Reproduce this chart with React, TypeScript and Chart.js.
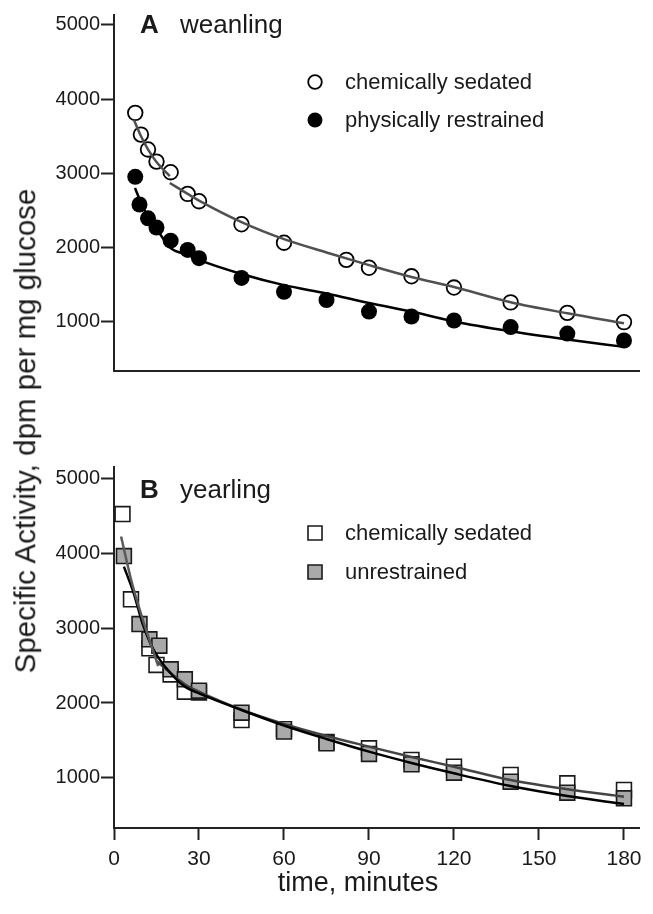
import React, { useEffect, useRef } from "react";
import { Chart, registerables } from "chart.js";
Chart.register(...registerables);

const FONT = "'Liberation Sans', Arial, Helvetica, sans-serif";
const INK = "#1a1a1a";
const AXIS = "#222222";

// ---------- Panel A: weanling ----------
const aSedatedTime = [7.5, 9.5, 12, 15, 20, 26, 30, 45, 60, 82, 90, 105, 120, 140, 160, 180];
const aSedatedValue = [3813, 3520, 3320, 3156, 3013, 2720, 2622, 2311, 2062, 1831, 1724, 1609, 1457, 1257, 1116, 991];
const aRestrainedTime = [7.5, 9, 12, 15, 20, 26, 30, 45, 60, 75, 90, 105, 120, 140, 160, 180];
const aRestrainedValue = [2951, 2577, 2391, 2267, 2089, 1964, 1853, 1587, 1400, 1289, 1133, 1067, 1013, 924, 836, 743];

// fitted curves, panel A
const aSedatedFitEarlyTime = [7, 9.5, 12, 15, 19.7];
const aSedatedFitEarlyValue = [3720, 3500, 3320, 3150, 2960];
const aSedatedFitTime = [19.7, 26, 30, 45, 60, 75, 90, 105, 120, 140, 160, 180];
const aSedatedFitValue = [2867, 2720, 2630, 2340, 2110, 1930, 1760, 1600, 1465, 1260, 1110, 975];
const aRestrainedFitTime = [7.4, 10, 12, 15, 20, 26, 30, 45, 60, 75, 90, 105, 120, 140, 160, 180];
const aRestrainedFitValue = [2800, 2560, 2420, 2250, 1990, 1900, 1830, 1640, 1490, 1378, 1250, 1133, 1000, 867, 756, 657];

// ---------- Panel B: yearling ----------
const bSedatedTime = [3, 6, 12.5, 15, 20, 25, 30, 45, 60, 75, 90, 105, 120, 140, 160, 180];
const bSedatedValue = [4520, 3383, 2729, 2507, 2380, 2151, 2140, 1773, 1650, 1480, 1396, 1240, 1151, 1040, 929, 840];
const bUnrestrainedTime = [3.5, 9, 12.5, 16, 20, 25, 30, 45, 60, 75, 90, 105, 120, 140, 160, 180];
const bUnrestrainedValue = [3960, 3053, 2849, 2764, 2449, 2316, 2164, 1871, 1618, 1462, 1320, 1182, 1071, 951, 804, 729];

// fitted curves, panel B
const bSedatedFitEarlyTime = [2.5, 6, 10, 15.6];
const bSedatedFitEarlyValue = [4220, 3650, 3130, 2493];
const bSedatedFitTime = [15, 20, 25, 30, 45, 60, 75, 90, 105, 120, 140, 160, 180];
const bSedatedFitValue = [2560, 2400, 2250, 2150, 1910, 1720, 1560, 1418, 1280, 1151, 973, 849, 751];
const bUnrestrainedFitTime = [3.5, 7, 10, 14, 20, 25, 30, 45, 60, 75, 90, 105, 120, 140, 160, 180];
const bUnrestrainedFitValue = [3818, 3460, 3070, 2707, 2396, 2218, 2129, 1907, 1700, 1520, 1351, 1200, 1062, 893, 760, 653];

// ---------- axes ----------
const yTicks = [1000, 2000, 3000, 4000, 5000];
const xTicks = [0, 30, 60, 90, 120, 150, 180];
const xTitle = "time, minutes";
const yTitle = "Specific Activity, dpm per mg glucose";

const pts = (xs: number[], ys: number[]) => xs.map((x, i) => ({ x, y: ys[i] }));

type LegendItem = { label: string; shape: "circle" | "square"; fill: string };

function overlayPlugin(
  letter: string,
  word: string,
  titleY: number,
  legend: LegendItem[],
  legendY: number[],
  axisTitle?: { text: string; x: number; y: number }
) {
  return {
    id: "overlay",
    afterDraw(chart: any) {
      const ctx = chart.ctx as CanvasRenderingContext2D;
      ctx.save();
      ctx.fillStyle = INK;
      ctx.textAlign = "left";
      ctx.textBaseline = "alphabetic";
      ctx.font = `bold 26px ${FONT}`;
      ctx.fillText(letter, 140, titleY);
      ctx.font = `26px ${FONT}`;
      ctx.fillText(word, 180, titleY);
      legend.forEach((item, i) => {
        const y = legendY[i];
        ctx.beginPath();
        if (item.shape === "circle") {
          if (item.fill === "#000000") {
            ctx.arc(315, y, 7.5, 0, Math.PI * 2);
            ctx.fillStyle = "#000000";
            ctx.fill();
          } else {
            ctx.arc(315, y, 6.8, 0, Math.PI * 2);
            ctx.fillStyle = item.fill;
            ctx.fill();
            ctx.lineWidth = 1.8;
            ctx.strokeStyle = "#000000";
            ctx.stroke();
          }
        } else {
          ctx.rect(315 - 7, y - 7, 14, 14);
          ctx.fillStyle = item.fill;
          ctx.fill();
          ctx.lineWidth = 1.6;
          ctx.strokeStyle = "#1a1a1a";
          ctx.stroke();
        }
        ctx.fillStyle = INK;
        ctx.font = `22px ${FONT}`;
        ctx.textBaseline = "middle";
        ctx.fillText(item.label, 345, y + 1);
      });
      if (axisTitle) {
        ctx.fillStyle = INK;
        ctx.font = `27px ${FONT}`;
        ctx.textAlign = "center";
        ctx.textBaseline = "middle";
        ctx.fillText(axisTitle.text, axisTitle.x, axisTitle.y);
      }
      ctx.restore();
    },
  };
}

function makeScales(yMax: number, showX: boolean) {
  return {
    x: {
      type: "linear",
      min: 0,
      max: 185.3,
      afterBuildTicks: (s: any) => {
        s.ticks = xTicks.map((v) => ({ value: v }));
      },
      grid: {
        display: true,
        drawOnChartArea: false,
        drawTicks: showX,
        tickLength: 12,
        tickWidth: 2,
        tickColor: AXIS,
      },
      border: { display: true, color: AXIS, width: 2 },
      ticks: {
        display: showX,
        font: { family: FONT, size: 21 },
        color: INK,
        padding: 7,
        maxRotation: 0,
        autoSkip: false,
        callback: (v: any) => String(v),
      },
      afterFit: (s: any) => {
        s.height = showX ? 86 : 0;
        s.paddingLeft = 0;
        s.paddingRight = 0;
      },
    },
    y: {
      type: "linear",
      min: 333,
      max: yMax,
      afterBuildTicks: (s: any) => {
        s.ticks = yTicks.map((v) => ({ value: v }));
      },
      grid: {
        display: true,
        drawOnChartArea: false,
        drawTicks: true,
        tickLength: 13,
        tickWidth: 2,
        tickColor: AXIS,
      },
      border: { display: true, color: AXIS, width: 2 },
      ticks: {
        font: { family: FONT, size: 20 },
        color: INK,
        padding: 1,
        callback: (v: any) => String(v),
      },
      afterFit: (s: any) => {
        s.width = 114;
        s.paddingTop = 0;
        s.paddingBottom = 0;
      },
    },
  };
}

const curve = (data: any[], color: string) => ({
  data,
  showLine: true,
  borderColor: color,
  borderWidth: 2.5,
  pointRadius: 0,
  pointHoverRadius: 0,
  cubicInterpolationMode: "monotone",
  fill: false,
});

export default function App() {
  const topRef = useRef<HTMLCanvasElement>(null);
  const botRef = useRef<HTMLCanvasElement>(null);

  useEffect(() => {
    const top = new Chart(topRef.current as HTMLCanvasElement, {
      type: "scatter",
      data: {
        datasets: [
          curve(pts(aSedatedFitEarlyTime, aSedatedFitEarlyValue), "#505050"),
          curve(pts(aSedatedFitTime, aSedatedFitValue), "#505050"),
          curve(pts(aRestrainedFitTime, aRestrainedFitValue), "#000000"),
          {
            label: "physically restrained",
            data: pts(aRestrainedTime, aRestrainedValue),
            pointStyle: "circle",
            pointRadius: 8,
            pointBorderWidth: 0,
            pointBackgroundColor: "#000000",
            pointBorderColor: "#000000",
          },
          {
            label: "chemically sedated",
            data: pts(aSedatedTime, aSedatedValue),
            pointStyle: "circle",
            pointRadius: 7.3,
            pointBorderWidth: 1.8,
            pointBackgroundColor: "#ffffff",
            pointBorderColor: "#000000",
          },
        ] as any,
      },
      options: {
        animation: false,
        responsive: false,
        events: [],
        layout: { padding: { left: 0, right: 14, top: 15, bottom: 5 } },
        plugins: { legend: { display: false }, tooltip: { enabled: false } },
        scales: makeScales(5133, false) as any,
      },
      plugins: [
        overlayPlugin(
          "A",
          "weanling",
          33,
          [
            { label: "chemically sedated", shape: "circle", fill: "#ffffff" },
            { label: "physically restrained", shape: "circle", fill: "#000000" },
          ],
          [82, 120]
        ),
      ],
    });

    const bot = new Chart(botRef.current as HTMLCanvasElement, {
      type: "scatter",
      data: {
        datasets: [
          curve(pts(bSedatedFitEarlyTime, bSedatedFitEarlyValue), "#5a5a5a"),
          curve(pts(bUnrestrainedFitTime, bUnrestrainedFitValue), "#000000"),
          curve(pts(bSedatedFitTime, bSedatedFitValue), "#444444"),
          {
            label: "unrestrained",
            data: pts(bUnrestrainedTime, bUnrestrainedValue),
            pointStyle: "rect",
            pointRadius: 10.5,
            pointBorderWidth: 1.6,
            pointBackgroundColor: "#a9a9a9",
            pointBorderColor: "#1a1a1a",
          },
          {
            label: "chemically sedated",
            data: pts(bSedatedTime, bSedatedValue),
            pointStyle: "rect",
            pointRadius: 10.5,
            pointBorderWidth: 1.6,
            pointBackgroundColor: "#ffffff",
            pointBorderColor: "#1a1a1a",
          },
        ] as any,
      },
      options: {
        animation: false,
        responsive: false,
        events: [],
        layout: { padding: { left: 0, right: 14, top: 27, bottom: 0 } },
        plugins: { legend: { display: false }, tooltip: { enabled: false } },
        scales: makeScales(5147, true) as any,
      },
      plugins: [
        overlayPlugin(
          "B",
          "yearling",
          58,
          [
            { label: "chemically sedated", shape: "square", fill: "#ffffff" },
            { label: "unrestrained", shape: "square", fill: "#a9a9a9" },
          ],
          [93, 132],
          { text: xTitle, x: 358, y: 444 }
        ),
      ],
    });

    return () => {
      top.destroy();
      bot.destroy();
    };
  }, []);

  return (
    <div style={{ position: "absolute", left: 0, top: 0, width: 653, height: 914, background: "#ffffff" }}>
      <canvas
        ref={topRef}
        width={653}
        height={380}
        style={{ position: "absolute", left: 0, top: 0, width: 653, height: 380 }}
      />
      <canvas
        ref={botRef}
        width={653}
        height={474}
        style={{ position: "absolute", left: 0, top: 440, width: 653, height: 474 }}
      />
      <div
        style={{
          position: "absolute",
          left: 25,
          top: 431,
          transform: "translate(-50%, -50%) rotate(-90deg)",
          whiteSpace: "nowrap",
          fontFamily: FONT,
          fontSize: 29.5,
          color: INK,
          lineHeight: 1,
        }}
      >
        {yTitle}
      </div>
    </div>
  );
}
